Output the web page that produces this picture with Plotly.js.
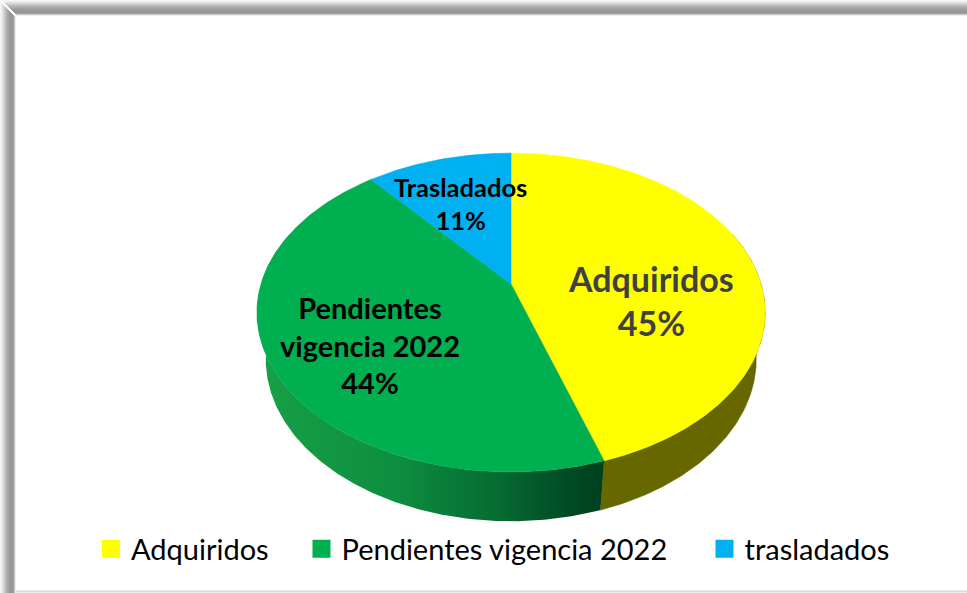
<!DOCTYPE html>
<html>
<head>
<meta charset="utf-8">
<script src="https://cdn.plot.ly/plotly-3.0.1.min.js"></script>
<style>
  html, body { margin: 0; padding: 0; background: #ffffff; }
  #chart { width: 967px; height: 593px; }
</style>
</head>
<body>
<div id="chart"></div>
<script>
// ---- data ----
const categories = ['Adquiridos', 'Pendientes vigencia 2022', 'trasladados'];
const sliceLabels = ['Adquiridos', 'Pendientes<br>vigencia 2022', 'Trasladados'];
const values = [45, 44, 11];

// ---- style ----
const topColors = ['#FFFF00', '#00B050', '#00B0F0'];
const sideStyles = [
  { color: '#676700' },
  { gradient: [[0, '#18a048'], [0.4, '#0d8e40'], [0.7, '#066a31'], [0.9, '#014a24'], [1, '#003f1d']] },
  { color: '#0086b8' }
];
const labelStyles = [
  { x: 651, y: 300, size: 34, color: '#404040' },
  { x: 370, y: 345, size: 29, color: '#000000' },
  { x: 460, y: 203, size: 25.5, color: '#000000' }
];
const legendCenters = [111, 321.5, 724.5];

// ---- 3D projection of the pie ----
const W = 967, Hh = 593;
const G = { cx: 511, cy: 284, R: 250, alpha: 38.1 * Math.PI / 180, D: 1100, H: 62 };
function proj(thetaDeg, level) {
  const t = thetaDeg * Math.PI / 180;
  const X = G.R * Math.sin(t), Z = -G.R * Math.cos(t), Y = level * G.H;
  const yp = Z * Math.sin(G.alpha) + Y * Math.cos(G.alpha);
  const zp = Z * Math.cos(G.alpha) - Y * Math.sin(G.alpha);
  const s = G.D / (G.D - zp);
  return [G.cx + X * s, G.cy + yp * s];
}
function arc(a, b, level) {
  const pts = [];
  const n = Math.max(2, Math.ceil(Math.abs(b - a) / 0.5));
  for (let i = 0; i <= n; i++) pts.push(proj(a + (b - a) * i / n, level));
  return pts;
}

const total = values.reduce((p, c) => p + c, 0);
const bounds = [];
let acc = 0;
values.forEach(v => { const a = acc / total * 360; acc += v; bounds.push([a, acc / total * 360]); });

const traces = [];
// side walls
bounds.forEach(([a, b], i) => {
  const lo = Math.max(a, 70), hi = Math.min(b, 290);
  if (hi <= lo) return;
  const pts = arc(lo, hi, 0).concat(arc(hi, lo, 1));
  pts.push(pts[0]);
  const st = sideStyles[i];
  const tr = {
    type: 'scatter', mode: 'lines', x: pts.map(p => p[0]), y: pts.map(p => p[1]),
    fill: 'toself', line: { width: 0.6, color: st.color || '#003f1d' },
    hoverinfo: 'skip', showlegend: false
  };
  if (st.gradient) {
    const xs = pts.map(p => p[0]);
    tr.fillgradient = { type: 'horizontal', colorscale: st.gradient, start: Math.min(...xs), stop: Math.max(...xs) };
    tr.line = { width: 0 };
  } else {
    tr.fillcolor = st.color;
  }
  traces.push(tr);
});
// top faces
bounds.forEach(([a, b], i) => {
  const pts = [[G.cx, G.cy]].concat(arc(a, b, 0));
  pts.push([G.cx, G.cy]);
  traces.push({
    type: 'scatter', mode: 'lines', x: pts.map(p => p[0]), y: pts.map(p => p[1]),
    fill: 'toself', fillcolor: topColors[i], line: { width: 0.6, color: topColors[i] },
    hoverinfo: 'skip', showlegend: false
  });
});
// legend entries
const legendIds = ['legend', 'legend2', 'legend3'];
categories.forEach((c, i) => {
  traces.push({
    type: 'scatter', mode: 'markers', x: [null], y: [null], name: c,
    marker: { symbol: 'square', size: 16, color: topColors[i], line: { width: 2, color: topColors[i] } },
    legend: legendIds[i], showlegend: true
  });
});

// slice labels
const annotations = sliceLabels.map((l, i) => ({
  x: labelStyles[i].x, y: labelStyles[i].y, xref: 'x', yref: 'y',
  text: l + '<br>' + Math.round(values[i] / total * 100) + '%',
  showarrow: false, align: 'center',
  font: { family: 'Lato, sans-serif', size: labelStyles[i].size, color: labelStyles[i].color, weight: 700 }
}));

// frame (shadow border top and left)
const shadeRows = ['#f6f6f6', '#eeeeee', '#e4e4e4', '#d8d8d8', '#cbcbcb', '#bfbfbf', '#b4b4b4', '#aaaaaa',
                   '#a2a2a2', '#9c9c9c', '#989898', '#969696', '#979797', '#9e9e9e', '#c8c8c8', '#eeeeee'];
const shapes = [];
shadeRows.forEach((c, i) => {
  shapes.push({ type: 'line', xref: 'x', yref: 'y', x0: i + 2, x1: W, y0: i + 0.5, y1: i + 0.5, line: { color: c, width: 1 } });
  shapes.push({ type: 'line', xref: 'x', yref: 'y', x0: i + 0.5, x1: i + 0.5, y0: i + 2, y1: Hh, line: { color: c, width: 1 } });
});
shapes.push({ type: 'line', xref: 'x', yref: 'y', x0: 16, x1: W, y0: 591.5, y1: 591.5, line: { color: '#d9d9d9', width: 2 } });

const legendBase = {
  orientation: 'h', xanchor: 'left', yanchor: 'middle', y: 1 - 549 / Hh,
  font: { family: 'Lato, sans-serif', size: 29, color: '#000000' },
  bgcolor: 'rgba(0,0,0,0)', borderwidth: 0
};
const layout = {
  width: W, height: Hh,
  margin: { l: 0, r: 0, t: 0, b: 0, pad: 0 },
  paper_bgcolor: '#ffffff', plot_bgcolor: '#ffffff',
  xaxis: { range: [0, W], visible: false, fixedrange: true },
  yaxis: { range: [Hh, 0], visible: false, fixedrange: true },
  hovermode: false,
  showlegend: true,
  legend: Object.assign({}, legendBase, { x: (legendCenters[0] - 20) / W }),
  legend2: Object.assign({}, legendBase, { x: (legendCenters[1] - 20) / W }),
  legend3: Object.assign({}, legendBase, { x: (legendCenters[2] - 20) / W }),
  annotations: annotations,
  shapes: shapes
};
Plotly.newPlot('chart', traces, layout, { displayModeBar: false, staticPlot: true });
</script>
</body>
</html>
